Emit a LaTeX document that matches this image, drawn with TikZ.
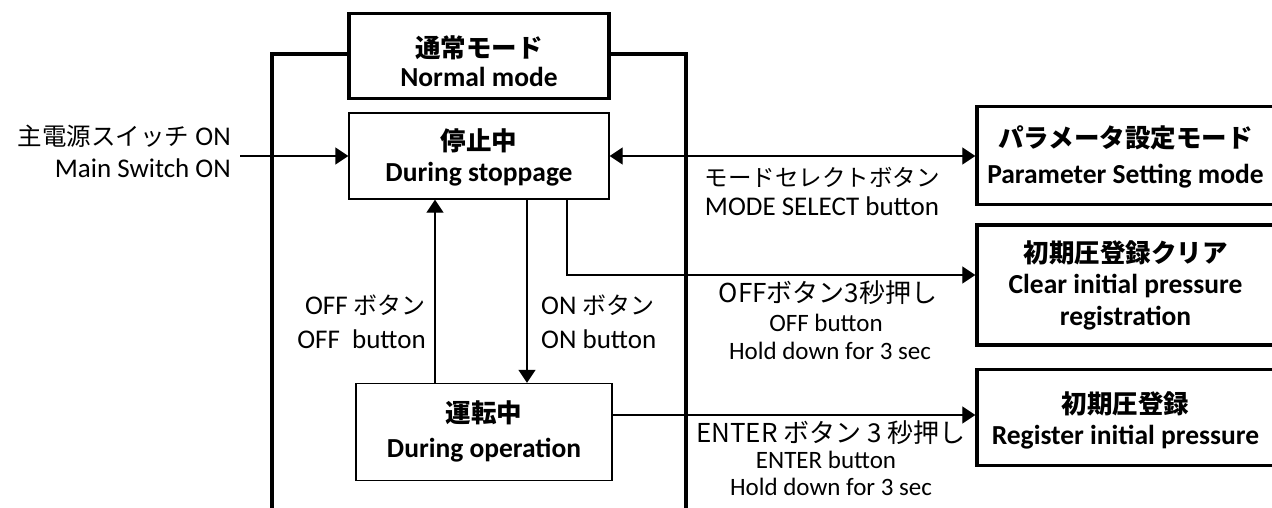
\documentclass[tikz,border=0pt]{standalone}
\usepackage{fontspec}
\setmainfont{Carlito}
\newfontfamily\jp{Noto Sans CJK JP}
\usetikzlibrary{arrows.meta}
\newcommand\JR[1]{{\fontsize{24}{28}\selectfont\jp #1}}
\begin{document}
\begin{tikzpicture}[x=1pt,y=-1pt,
  thickbox/.style={draw, line width=3.4pt, inner sep=0pt},
  thinbox/.style={draw, line width=1.3pt, inner sep=0pt},
  frame/.style={line width=3.4pt},
  conn/.style={line width=1.3pt},
  tip/.tip={Triangle[length=13pt,width=17pt]},
  arr/.style={conn, -tip},
  darr/.style={conn, tip-tip},
  txt/.style={inner sep=0pt, anchor=base},
  bj/.style={txt, font=\fontsize{25.5}{30}\selectfont\bfseries\jp},
  bl/.style={txt, font=\fontsize{27.5}{30}\selectfont\bfseries},
  rl/.style={txt, font=\fontsize{27}{30}\selectfont},
  rj/.style={txt, font=\fontsize{26}{30}\selectfont\jp},
  sl/.style={txt, font=\fontsize{25}{28}\selectfont}
]
\clip (0,0) rectangle (1272,508);
\fill[white] (0,0) rectangle (1272,508);

% boxes
\node[thickbox, minimum width=260pt, minimum height=85pt] (norm) at (479,56) {};
\node[thinbox, minimum width=260pt, minimum height=86pt] (stop) at (479,156) {};
\node[thinbox, minimum width=256pt, minimum height=97pt] (op) at (484,432) {};
\node[thickbox, minimum width=297pt, minimum height=98pt] (param) at (1125.5,155.5) {};
\node[thickbox, minimum width=297pt, minimum height=120pt] (clear) at (1125.5,285) {};
\node[thickbox, minimum width=297pt, minimum height=96pt] (reg) at (1125.5,417.5) {};

% outer frame of normal mode
\coordinate (fl) at (272,520);
\coordinate (fr) at (686,520);
\draw[frame] ([yshift=2pt]norm.west) -| (fl);
\draw[frame] ([yshift=2pt]norm.east) -| (fr);

% box texts
\node[bj] (normj) at (479,58) {通常モード};
\node[bl] (norme) at (479,87) {Normal mode};
\node[bj] (stopj) at (479,151) {停止中};
\node[bl] (stope) at (479,182) {During stoppage};
\node[bj] (opj) at (484,422) {運転中};
\node[bl] (ope) at (484,457) {During operation};
\node[bj] (paramj) at (1125.5,148) {パラメータ設定モード};
\node[bl] (parame) at (1125.5,183) {Parameter Setting mode};
\node[bj] (clearj) at (1125.5,262) {初期圧登録クリア};
\node[bl] (cleare1) at (1125.5,293) {Clear initial pressure};
\node[bl] (cleare2) at (1125.5,325) {registration};
\node[bj] (regj) at (1125.5,413) {初期圧登録};
\node[bl] (rege) at (1125.5,444) {Register initial pressure};

% connectors
\coordinate (msw) at (240,156);
\draw[arr] (msw) -- (stop.west);
\draw[darr] (stop.east) -- (stop.east -| param.west);
\draw[arr] ([xshift=88pt]stop.south) |- ([yshift=10pt]clear.west);
\draw[arr] ([xshift=48pt]stop.south) -- ([xshift=48pt]stop.south |- op.north);
\draw[arr] ([xshift=-49pt]op.north) -- ([xshift=-49pt]op.north |- stop.south);
\draw[arr] ([yshift=17pt]op.east) -- ([yshift=17pt]op.east -| reg.west);

% labels
\node[rl, anchor=base east] (mswj) at (231,146) {{\fontsize{24.5}{28}\selectfont\jp 主電源スイッチ} ON};
\node[rl, anchor=base east] (mswe) at (231,178) {Main Switch ON};
\node[rl] (modej) at (822,186) {{\fontsize{23.5}{28}\selectfont\jp モードセレクトボタン}};
\node[rl] (modee) at (822,215) {MODE SELECT button};
\node[rj] (offhj) at (828,302) {OFFボタン3秒押し};
\node[sl] (offhe1) at (826,331) {OFF button};
\node[sl] (offhe2) at (830,359) {Hold down for 3 sec};
\node[rj] (entj) at (831,442) {ENTER ボタン 3 秒押し};
\node[sl] (ente1) at (826,468) {ENTER button};
\node[sl] (ente2) at (831,495) {Hold down for 3 sec};
\node[rl, anchor=base east] (offj) at (426,314) {OFF \JR{ボタン}};
\node[rl, anchor=base east] (offe) at (426,348) {OFF\ \ button};
\node[rl, anchor=base west] (onj) at (541,314) {ON \JR{ボタン}};
\node[rl, anchor=base west] (one) at (541,348) {ON button};
\end{tikzpicture}
\end{document}
